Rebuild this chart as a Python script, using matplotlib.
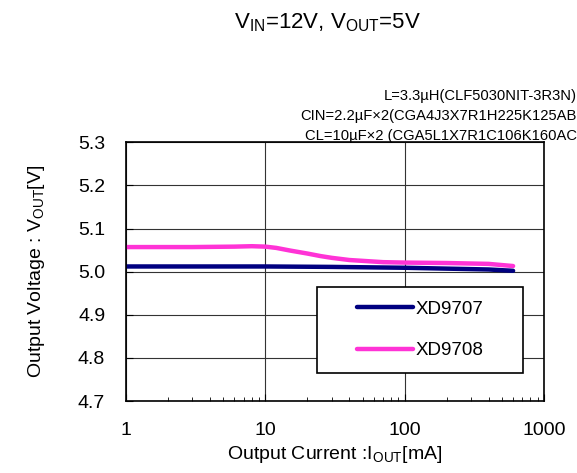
import matplotlib
matplotlib.use("Agg")
import matplotlib.pyplot as plt
from matplotlib.patches import Rectangle
from matplotlib.ticker import FixedLocator, NullFormatter

plt.rcParams['font.family'] = ['Liberation Sans', 'DejaVu Sans']
plt.rcParams['mathtext.fontset'] = 'custom'
plt.rcParams['mathtext.rm'] = 'Liberation Sans'
plt.rcParams['mathtext.it'] = 'Liberation Sans'

# data
iout_9707 = [1, 3, 10, 30, 100, 200, 400, 600]
vout_9707 = [5.012, 5.012, 5.012, 5.011, 5.009, 5.007, 5.005, 5.002]

iout_9708 = [1, 3, 6, 8, 10, 12, 15, 20, 25, 30, 40, 50, 70, 100, 200, 400, 600]
vout_9708 = [5.057, 5.057, 5.058, 5.059, 5.058, 5.055, 5.049, 5.042, 5.036, 5.032,
             5.027, 5.025, 5.022, 5.021, 5.020, 5.018, 5.013]

x_ticks = [1, 10, 100, 1000]
y_ticks = [4.7, 4.8, 4.9, 5.0, 5.1, 5.2, 5.3]

fig = plt.figure(figsize=(5.77, 4.73), dpi=100)
ax = fig.add_axes([0.2184, 0.1522, 0.7244, 0.547])

ax.plot(iout_9707, vout_9707, color="#000080", lw=3.2, label="XD9707", solid_capstyle="round")
ax.plot(iout_9708, vout_9708, color="#FF33D6", lw=3.2, label="XD9708", solid_capstyle="round")

ax.set_xscale("log")
ax.set_xlim(1, 1000)
ax.set_ylim(4.7, 5.3)
ax.set_xticks(x_ticks)
ax.set_xticklabels([str(t) for t in x_ticks])
ax.xaxis.set_minor_locator(FixedLocator([m * d for d in (1, 10, 100) for m in range(2, 10)]))
ax.xaxis.set_minor_formatter(NullFormatter())
ax.set_yticks(y_ticks)
ax.set_yticklabels([f"{t:.1f}" for t in y_ticks])
ax.tick_params(which="both", direction="in", top=False, right=False, labelsize=14, color="black")
ax.tick_params(which="major", length=5)
ax.tick_params(which="minor", length=3)
ax.tick_params(axis="x", pad=15)
ax.tick_params(axis="y", pad=15)
ax.grid(True, which="major", color="#333333", lw=0.8)
for s in ax.spines.values():
    s.set_linewidth(1.2)

ax.set_xlabel(r"Output Current :I$_{\mathrm{OUT}}$[mA]", fontsize=14, labelpad=4)
ax.set_ylabel(r"Output Voltage : V$_{\mathrm{OUT}}$[V]", fontsize=14, labelpad=22)

# legend box drawn separately so the padding can match the reference
ax.add_patch(Rectangle((0.457, 0.108), 0.493, 0.332, transform=ax.transAxes,
                       facecolor="white", edgecolor="black", lw=1.2, zorder=4))
leg = ax.legend(loc="center", bbox_to_anchor=(0.7035, 0.274), fontsize=13.5,
                frameon=False, handlelength=3.0, handletextpad=0.15,
                labelspacing=1.3, borderaxespad=0)
leg.set_zorder(5)

fig.text(0.567, 0.953, r"V$_{\mathrm{IN}}$=12V, V$_{\mathrm{OUT}}$=5V", fontsize=16, ha="center", va="center")
notes = ["L=3.3µH(CLF5030NIT-3R3N)",
         "CIN=2.2µF×2(CGA4J3X7R1H225K125AB",
         "CL=10µF×2 (CGA5L1X7R1C106K160AC"]
for i, t in enumerate(notes):
    fig.text(1.0, 0.797 - i * 0.042, t, fontsize=10.6, ha="right", va="center")

plt.savefig("out.png")
